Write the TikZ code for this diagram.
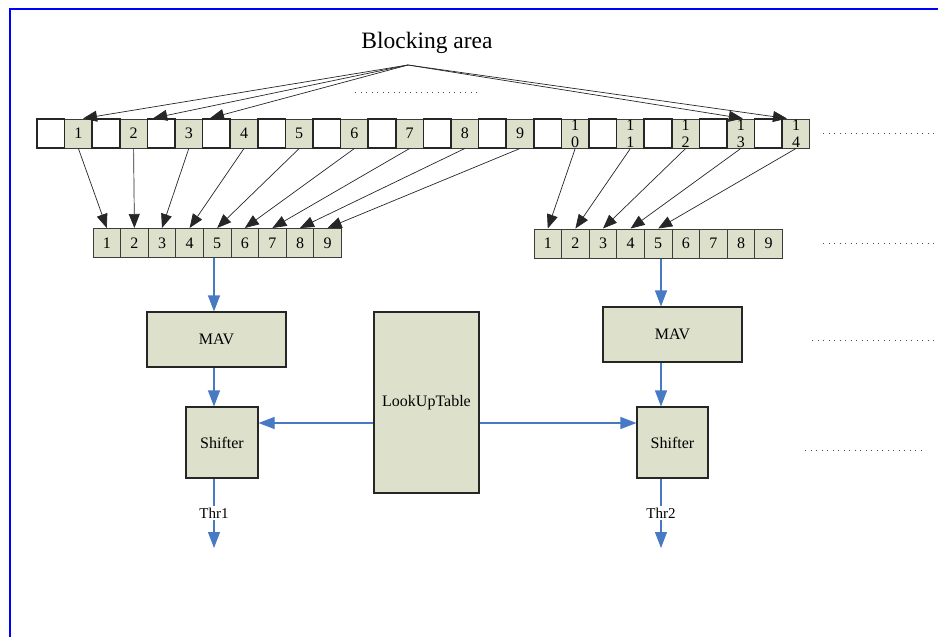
\documentclass[tikz,border=0pt]{standalone}
\usepackage{fontspec}
\setmainfont{Liberation Serif}
\usetikzlibrary{arrows.meta}

\definecolor{cellgreen}{RGB}{221,224,203}
\definecolor{flowblue}{RGB}{72,122,196}
\definecolor{edgegray}{RGB}{60,60,60}

\tikzset{
  emptycell/.style={draw=black!85,line width=1.6pt,fill=white,minimum width=27.6pt,minimum height=29pt,inner sep=0pt},
  numcell/.style={draw=edgegray,line width=1pt,fill=cellgreen,minimum width=27.6pt,minimum height=29pt,inner sep=0pt,align=center,font=\fontsize{16}{17}\selectfont},
  block/.style={draw=black!85,line width=1.1pt,fill=cellgreen,inner sep=0pt,font=\fontsize{16}{18}\selectfont},
  pick/.style={-{Triangle[length=14pt,width=11pt]},line width=0.7pt,black!85},
  flow/.style={-{Triangle[length=16pt,width=12pt]},line width=1.1pt,flowblue},
  flowline/.style={line width=1.1pt,flowblue},
  etc/.style={black!70,line width=1pt,dash pattern=on 1.2pt off 4.3pt}
}

\begin{document}
\begin{tikzpicture}[x=1pt,y=-1pt]
  \useasboundingbox (0,0) rectangle (938,637);
  \draw[blue,line width=2.5pt] (10,637) -- (10,9) -- (938,9);

  % blocking area
  \node[font=\fontsize{23.5}{26}\selectfont] (title) at (427,43) {Blocking area};
  \coordinate (apex) at (408,65);
  \draw[etc] (355,92) -- (477,92);

  % top row
  \foreach \k/\txt in {1/1,2/2,3/3,4/4,5/5,6/6,7/7,8/8,9/9,10/{1\\0},11/{1\\1},12/{1\\2},13/{1\\3},14/{1\\4}}
    \node[numcell] (t\k) at ({37+27.6*(2*\k-1)+13.8},133.5) {\txt};
  \foreach \k in {0,...,13}
    \node[emptycell] (e\k) at ({37+27.6*2*\k+13.8},133.5) {};

  % picked rows
  \foreach \k in {1,...,9} {
    \node[numcell] (l\k) at ({93+27.6*(\k-1)+13.8},243) {\k};
    \node[numcell] (r\k) at ({534+27.6*(\k-1)+13.8},243.5) {\k};
  }
  \foreach \k in {1,...,9}
    \draw[pick] (t\k.south) -- (l\k.north);
  \foreach \k [evaluate=\k as \m using int(\k+9)] in {1,...,5}
    \draw[pick] (t\m.south) -- (r\k.north);

  \draw[pick] (apex) -- ([xshift=4.6pt]t1.north);
  \draw[pick] (apex) -- ([xshift=-8pt]e2.north);
  \draw[pick] (apex) -- ([xshift=-6.4pt]e3.north);
  \draw[pick] (apex) -- ([xshift=2pt]t13.north);
  \draw[pick] (apex) -- ([xshift=-9pt]t14.north);

  \draw[etc] (823,133) -- (936,133);
  \draw[etc] (823,243) -- (936,243);
  \draw[etc] (812,340) -- (935,340);
  \draw[etc] (805,450) -- (926,450);

  % processing blocks
  \node[block,minimum width=139pt,minimum height=55pt] (mavL) at (216.5,339.5) {MAV};
  \node[block,minimum width=139pt,minimum height=55pt] (mavR) at (672.5,334.5) {MAV};
  \node[block,minimum width=105pt,minimum height=181pt] (lut) at (426.5,402.5) {LookUpTable};
  \node[block,minimum width=72pt,minimum height=71pt] (shL) at (222,442.5) {Shifter};
  \node[block,minimum width=71pt,minimum height=71pt] (shR) at (672.5,442.5) {Shifter};

  \node[font=\fontsize{15}{17}\selectfont,inner sep=1.5pt] (thrL) at (214,513) {Thr1};
  \node[font=\fontsize{15}{17}\selectfont,inner sep=1.5pt] (thrR) at (661,513) {Thr2};
  \coordinate (endL) at (214,548);
  \coordinate (endR) at (661,548);

  \draw[flow] (thrL |- l5.south) -- (thrL |- mavL.north);
  \draw[flow] (thrL |- mavL.south) -- (thrL |- shL.north);
  \draw[flowline] (thrL |- shL.south) -- (thrL.north);
  \draw[flow] (thrL.south) -- (endL);

  \draw[flow] (thrR |- r5.south) -- (thrR |- mavR.north);
  \draw[flow] (thrR |- mavR.south) -- (thrR |- shR.north);
  \draw[flowline] (thrR |- shR.south) -- (thrR.north);
  \draw[flow] (thrR.south) -- (endR);

  \coordinate (lutL) at ([yshift=-20.5pt]lut.west);
  \coordinate (lutR) at ([yshift=-20.5pt]lut.east);
  \draw[flow] (lutL) -- (lutL -| shL.east);
  \draw[flow] (lutR) -- (lutR -| shR.west);
\end{tikzpicture}
\end{document}
